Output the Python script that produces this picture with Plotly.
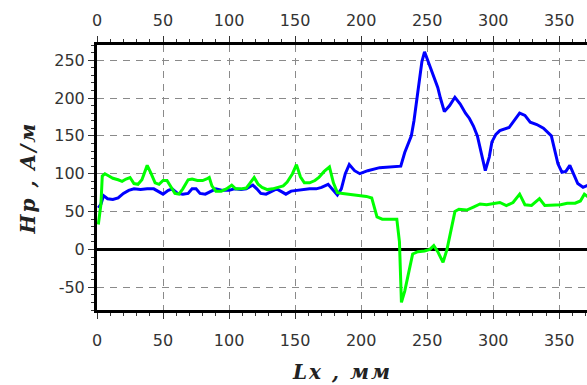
import plotly.graph_objects as go

# Blue series: Hp along Lx
blue_x = [1, 3, 5, 8, 12, 16, 20, 24, 28, 33, 38, 43, 47, 50, 54, 57, 61, 65, 69, 72,
          75, 78, 82, 86, 90, 95, 100, 104, 109, 113, 118, 121, 124, 128, 132, 136, 140,
          143, 147, 151, 156, 161, 166, 170, 175, 178, 182, 185, 188, 191, 195, 199, 205,
          214, 222, 230, 233, 236, 238, 240, 243, 246, 248, 252, 255, 258, 260, 263, 267,
          271, 275, 279, 282, 285, 288, 291, 294, 297, 299, 302, 305, 312, 316, 320, 324,
          328, 333, 338, 344, 347, 349, 352, 355, 358, 361, 364, 368, 372]
blue_y = [55, 60, 71, 67, 66, 68, 74, 78, 80, 79, 80, 80, 76, 73, 78, 80, 74, 73, 74, 80,
          80, 74, 73, 77, 80, 78, 78, 80, 79, 80, 85, 80, 74, 73, 76, 80, 76,
          73, 77, 78, 79, 80, 80, 82, 86, 80, 72, 80, 100, 112, 104, 100, 104,
          108, 109, 110, 128, 140, 150, 170, 212, 248, 261, 243, 228, 214, 200, 182, 190,
          201, 192, 180, 173, 163, 150, 125, 104, 122, 142, 152, 157, 161, 170, 180, 177,
          168, 165, 160, 150, 125, 113, 102, 103, 111, 98, 87, 82, 85]

# Green series: Hp along Lx
green_x = [1, 3, 4, 6, 9, 12, 16, 19, 22, 25, 28, 31, 34, 38, 41, 44, 47, 50, 53, 56,
           59, 62, 65, 69, 72, 76, 80, 83, 85, 87, 90, 94, 98, 102, 105, 109, 113, 116,
           119, 122, 125, 129, 133, 137, 141, 144, 148, 151, 154, 157, 161, 165, 168, 172,
           176, 179, 182, 186, 192, 198, 204, 208, 210, 212, 216, 222, 227, 229, 230.5,
           233, 236, 239, 243, 248, 252, 255, 258, 262, 265, 268, 271, 274, 280, 285, 290,
           295, 300, 305, 310, 315, 320, 324, 329, 335, 339, 345, 351, 356, 362, 366, 369,
           372]
green_y = [33, 60, 97, 100, 97, 94, 92, 90, 93, 95, 87, 86, 92, 111, 100, 88, 86, 91, 91, 82,
           74, 73, 80, 92, 93, 91, 91, 93, 95, 84, 77, 77, 80, 85, 80, 80, 81, 88,
           95, 86, 82, 79, 80, 82, 84, 89, 100, 112, 96, 88, 88, 91, 95, 103,
           109, 88, 75, 74, 73, 71, 70, 68, 55, 43, 40, 40, 40, 10, -70,
           -55, -30, -6, -3, -2, 0, 5, -3, -17, 0, 27, 50, 53, 52, 56, 60,
           59, 60, 62, 58, 62, 73, 59, 58, 67, 58, 58, 59, 61, 61, 64, 73,
           69]

x_ticks = [0, 50, 100, 150, 200, 250, 300, 350]
y_ticks = [-50, 0, 50, 100, 150, 200, 250]

tick_font = dict(family="DejaVu Sans", size=16, color="#333333")
title_font = dict(family="DejaVu Serif", size=20, color="#222222")
spaced = '<span style="letter-spacing:2px">{}</span>'

fig = go.Figure()
fig.add_trace(go.Scatter(x=blue_x, y=blue_y, mode="lines",
                         line=dict(color="#0000ff", width=3), showlegend=False))
fig.add_trace(go.Scatter(x=green_x, y=green_y, mode="lines",
                         line=dict(color="#00ff00", width=3), showlegend=False))
# invisible trace so the top axis is laid out
fig.add_trace(go.Scatter(x=[0], y=[0], xaxis="x2", mode="markers",
                         marker=dict(opacity=0), hoverinfo="skip", showlegend=False))

x_common = dict(
    range=[0, 371], tickvals=x_ticks, ticktext=[str(v) for v in x_ticks],
    tickfont=tick_font, showline=True, linecolor="black", linewidth=3,
    ticks="outside", ticklen=6, tickwidth=1, tickcolor="#333333",
    minor=dict(dtick=10, tick0=0, ticks="outside", ticklen=3, tickwidth=1,
               tickcolor="#333333", showgrid=False),
    zeroline=False, fixedrange=True,
)

fig.update_layout(
    width=587, height=385,
    margin=dict(l=97, r=0, t=45, b=75),
    paper_bgcolor="white", plot_bgcolor="white",
    xaxis=dict(**x_common, side="bottom", showgrid=True, gridcolor="#8a8a8a",
               gridwidth=1, griddash="7px,6px", ticklabelstandoff=8),
    xaxis2=dict(**x_common, side="top", overlaying="x", showgrid=False,
                ticklabelstandoff=4),
    yaxis=dict(
        range=[-80, 270], tickvals=y_ticks, ticktext=[str(v) for v in y_ticks],
        tickfont=tick_font, showline=True, linecolor="black", linewidth=3,
        ticks="outside", ticklen=6, tickwidth=1, tickcolor="#333333",
        minor=dict(dtick=10, tick0=0, ticks="outside", ticklen=3, tickwidth=1,
                   tickcolor="#333333", showgrid=False),
        showgrid=True, gridcolor="#8a8a8a", gridwidth=1, griddash="7px,6px",
        zeroline=True, zerolinecolor="black", zerolinewidth=3, fixedrange=True,
    ),
    annotations=[
        dict(text=spaced.format("<b><i>Lx , мм</i></b>"), xref="paper", yref="paper",
             x=0.5, y=-0.235, xanchor="center", yanchor="middle",
             showarrow=False, font=title_font),
        dict(text=spaced.format("<b><i>Hp , A/м</i></b>"), xref="paper", yref="paper",
             x=-0.141, y=0.5, xanchor="center", yanchor="middle",
             textangle=-90, showarrow=False, font=title_font),
    ],
)

fig.write_html("out.html")
